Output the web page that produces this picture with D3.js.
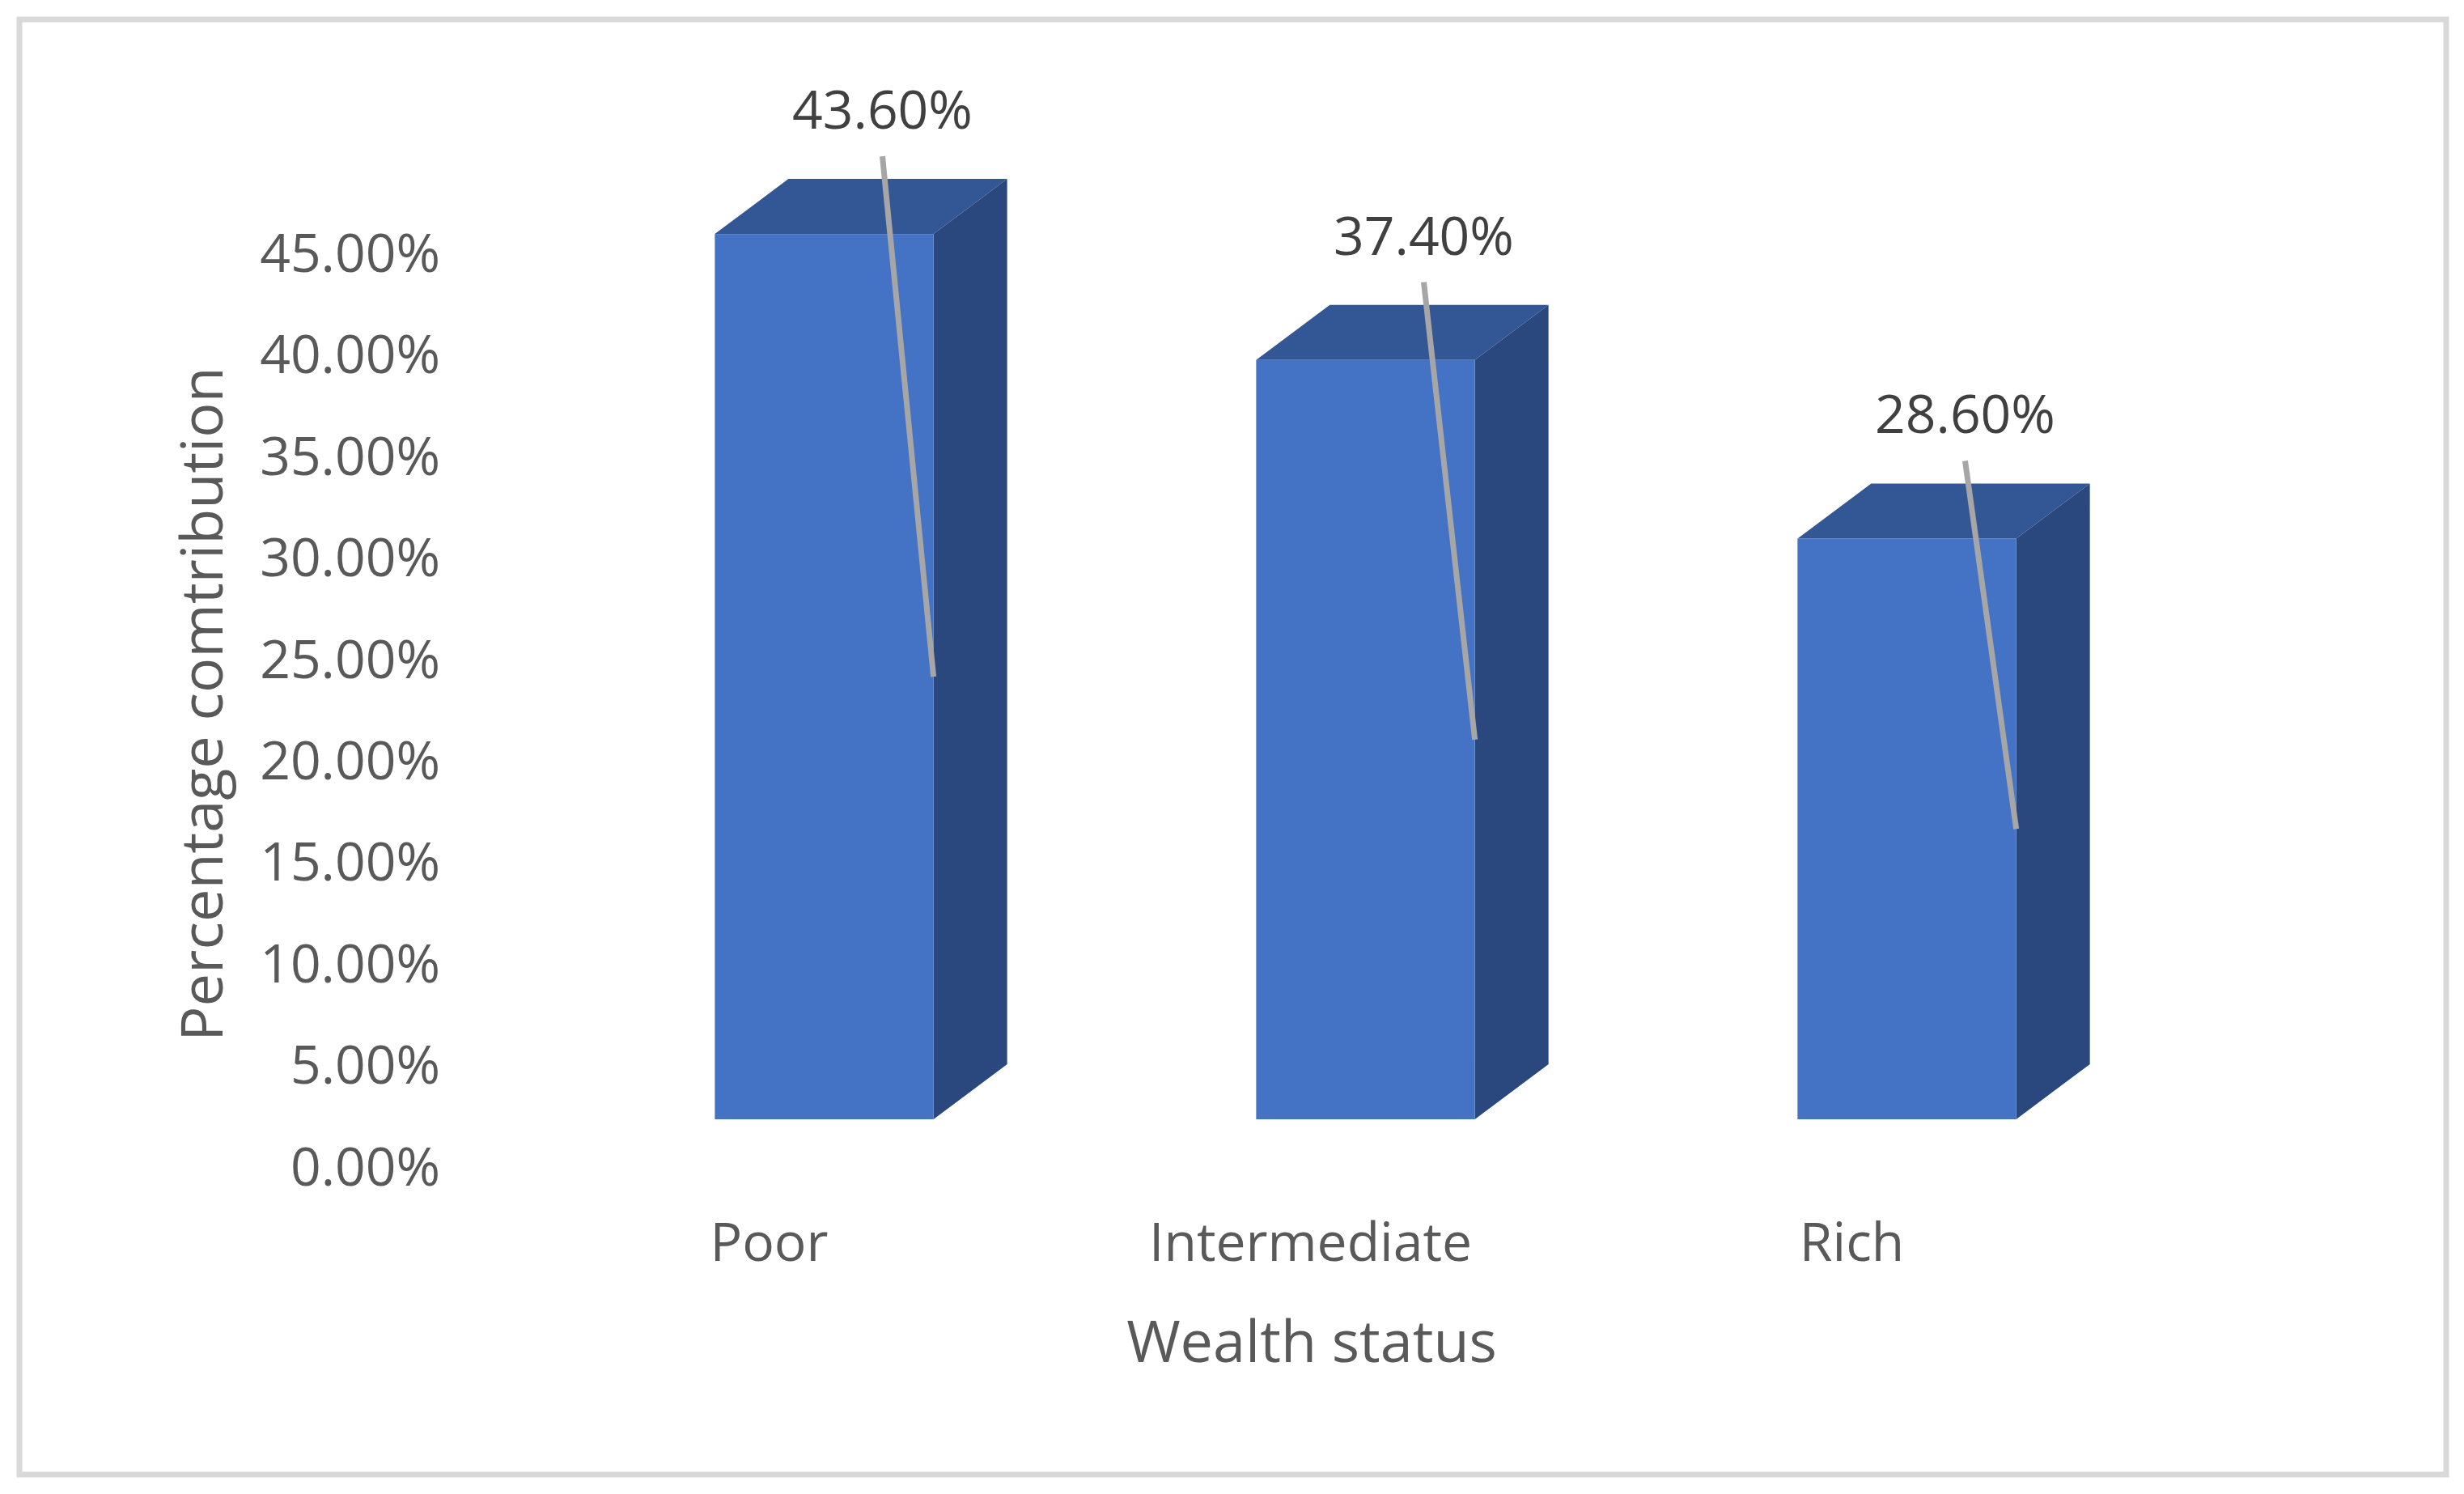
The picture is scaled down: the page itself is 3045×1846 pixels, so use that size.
<!DOCTYPE html>
<html>
<head>
<meta charset="utf-8">
<script src="https://cdn.jsdelivr.net/npm/d3@7"></script>
<style>
  body { margin: 0; background: #fff; }
  text { font-family: "Open Sans", "Noto Sans", sans-serif; }
</style>
</head>
<body>
<div id="chart"></div>
<script>
// Data
var categories = ['Poor', 'Intermediate', 'Rich'];
var values = [43.6, 37.4, 28.6];
var valueLabels = ['43.60%', '37.40%', '28.60%'];
var tickValues = [0, 5, 10, 15, 20, 25, 30, 35, 40, 45];
var yTitle = 'Percentage comtribution';
var xTitle = 'Wealth status';

var width = 3045,
    height = 1846;

var svg = d3.select('#chart').append('svg')
    .attr('width', width)
    .attr('height', height);

// Outer frame
svg.append('rect')
    .attr('x', 24).attr('y', 24)
    .attr('width', 2999).attr('height', 1798)
    .attr('fill', '#fff')
    .attr('stroke', '#d9d9d9')
    .attr('stroke-width', 7);

// Scales
var y = d3.scaleLinear().domain([0, 45]).range([1441, 312]);
var x = d3.scaleBand().domain(categories)
    .range([684, 2691])
    .paddingInner(0.596)
    .paddingOuter(0.298);

// 3d offsets (front face sits above the back wall labels)
var frontShift = 58,
    depthX = 91,
    depthY = 68,
    labelShift = 72;

// Y tick labels
svg.append('g').selectAll('text')
    .data(tickValues)
  .enter().append('text')
    .attr('x', 544)
    .attr('y', function(d) { return y(d); })
    .attr('dy', '0.36em')
    .attr('text-anchor', 'end')
    .attr('font-size', 66)
    .attr('fill', '#595959')
    .text(function(d) { return d3.format('.2f')(d) + '%'; });

// Bars
var bars = svg.append('g').selectAll('g')
    .data(categories)
  .enter().append('g');

function barTop(i) { return y(values[i]) - frontShift; }
var base = y(0) - frontShift;

// top face
bars.append('path')
    .attr('fill', '#335694')
    .attr('d', function(d, i) {
      var x0 = x(d), x1 = x0 + x.bandwidth(), t = barTop(i);
      return 'M' + x0 + ',' + t + 'L' + (x0 + depthX) + ',' + (t - depthY) +
        'L' + (x1 + depthX) + ',' + (t - depthY) + 'L' + x1 + ',' + t + 'Z';
    });

// side face
bars.append('path')
    .attr('fill', '#2a487e')
    .attr('d', function(d, i) {
      var x1 = x(d) + x.bandwidth(), t = barTop(i);
      return 'M' + x1 + ',' + t + 'L' + (x1 + depthX) + ',' + (t - depthY) +
        'L' + (x1 + depthX) + ',' + (base - depthY) + 'L' + x1 + ',' + base + 'Z';
    });

// front face
bars.append('rect')
    .attr('fill', '#4472c4')
    .attr('x', function(d) { return x(d); })
    .attr('y', function(d, i) { return barTop(i); })
    .attr('width', x.bandwidth())
    .attr('height', function(d, i) { return base - barTop(i); });

// Leader lines
bars.append('line')
    .attr('stroke', '#a6a6a6')
    .attr('stroke-width', 7)
    .attr('x1', function(d) { return x(d) + x.bandwidth() / 2 + labelShift; })
    .attr('y1', function(d, i) { return barTop(i) - depthY - 28; })
    .attr('x2', function(d) { return x(d) + x.bandwidth(); })
    .attr('y2', function(d, i) { return (barTop(i) + base) / 2; });

// Value labels
bars.append('text')
    .attr('x', function(d) { return x(d) + x.bandwidth() / 2 + labelShift; })
    .attr('y', function(d, i) { return barTop(i) - depthY - 62; })
    .attr('text-anchor', 'middle')
    .attr('font-size', 66)
    .attr('fill', '#404040')
    .text(function(d, i) { return valueLabels[i]; });

// Category labels
svg.append('g').selectAll('text')
    .data(categories)
  .enter().append('text')
    .attr('x', function(d) { return x(d) + x.bandwidth() / 2 - 68; })
    .attr('y', 1534)
    .attr('dy', '0.36em')
    .attr('text-anchor', 'middle')
    .attr('font-size', 66)
    .attr('fill', '#595959')
    .text(function(d) { return d; });

// Axis titles
svg.append('text')
    .attr('transform', 'translate(249,870) rotate(-90)')
    .attr('dy', '0.36em')
    .attr('text-anchor', 'middle')
    .attr('font-size', 72)
    .attr('fill', '#595959')
    .text(yTitle);

svg.append('text')
    .attr('x', 1621)
    .attr('y', 1657)
    .attr('dy', '0.36em')
    .attr('text-anchor', 'middle')
    .attr('font-size', 72)
    .attr('fill', '#595959')
    .text(xTitle);
</script>
</body>
</html>
